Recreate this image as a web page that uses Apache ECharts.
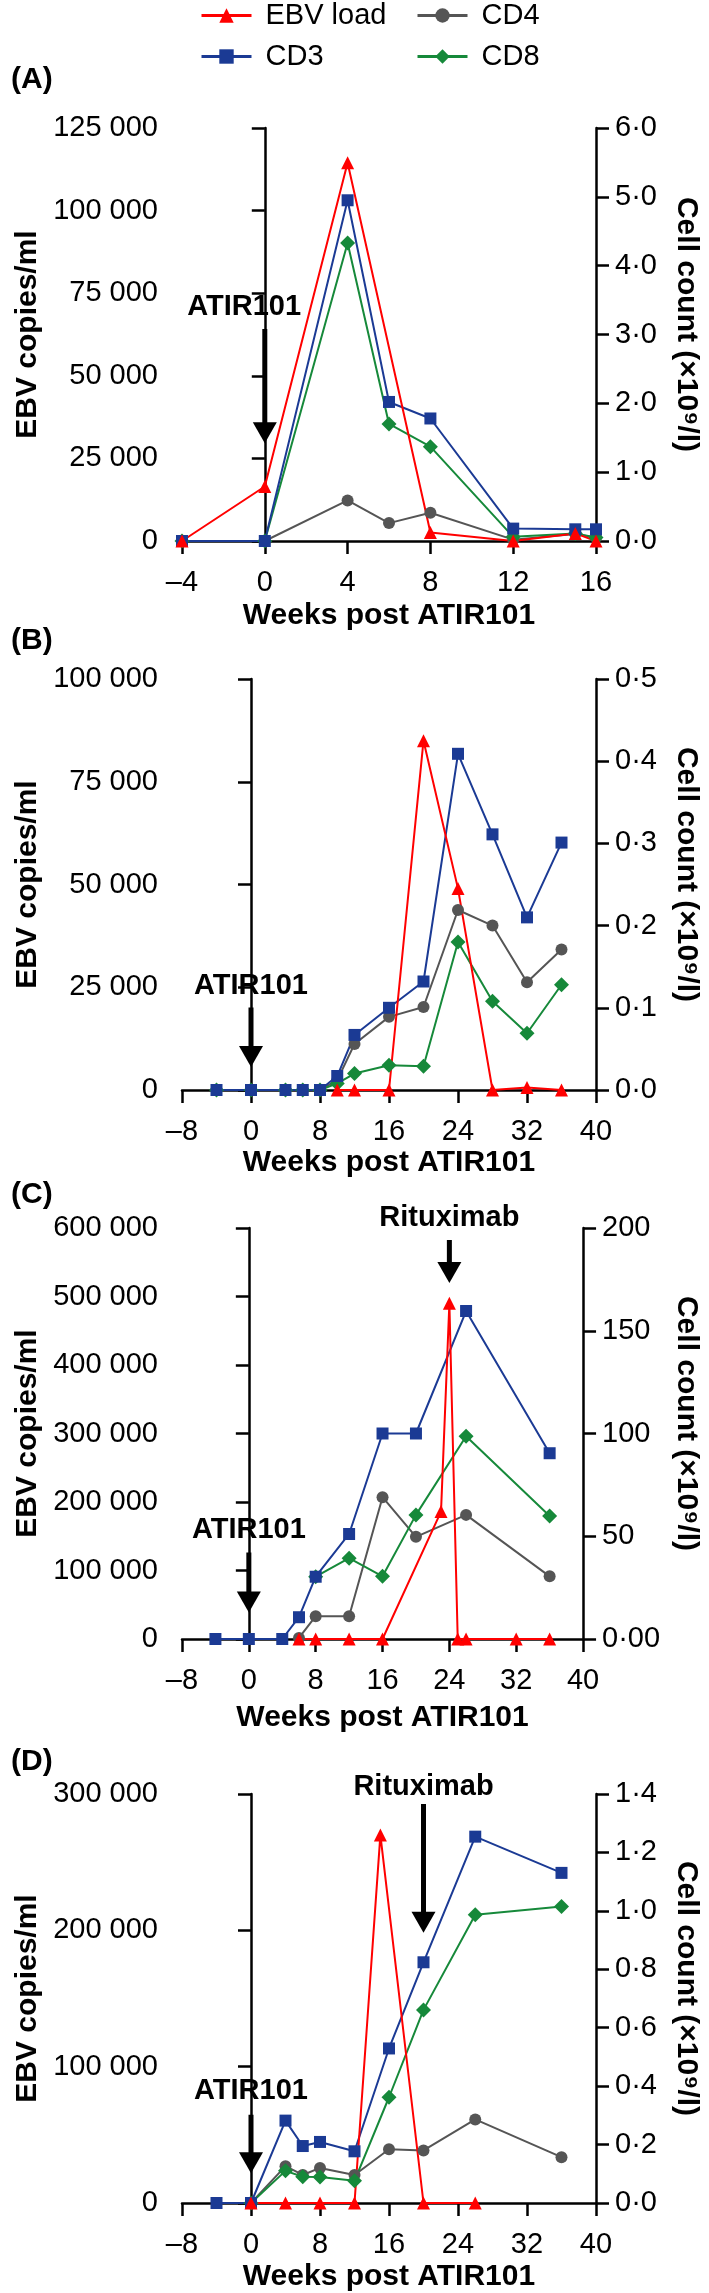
<!DOCTYPE html>
<html><head><meta charset="utf-8">
<script src="https://cdn.jsdelivr.net/npm/echarts@6/dist/echarts.min.js"></script>
<style>html,body{margin:0;padding:0;background:#fff}#c{width:709px;height:2293px}</style>
</head><body><div id="c"></div>
<script>
// ---------- DATA ----------
// Panel A
const weeksA_ebv = [-4, 0, 4, 8, 12, 15, 16];
const ebvA = [0, 16500, 114500, 2600, 0, 2300, 0];
const weeksA_cells = [-4, 0, 4, 6, 8, 12, 15, 16];
const cd3A = [0, 0, 4.95, 2.02, 1.78, 0.18, 0.17, 0.17];
const cd4A = [0, 0, 0.59, 0.26, 0.41, 0.02, 0.10, 0.05];
const cd8A = [0, 0, 4.33, 1.70, 1.37, 0.06, 0.11, 0.05];
// Panel B
const weeksB_ebv = [10, 12, 16, 20, 24, 28, 32, 36];
const ebvB = [0, 0, 0, 85000, 49000, 0, 600, 0];
const weeksB_cells = [-4, 0, 4, 6, 8, 10, 12, 16, 20, 24, 28, 32, 36];
const cd3B = [0, 0, 0, 0, 0, 0.017, 0.067, 0.100, 0.132, 0.409, 0.311, 0.210, 0.301];
const cd4B = [0, 0, 0, 0, 0, 0.012, 0.056, 0.089, 0.101, 0.219, 0.200, 0.131, 0.171];
const cd8B = [0, 0, 0, 0, 0, 0.008, 0.020, 0.030, 0.029, 0.180, 0.108, 0.069, 0.128];
// Panel C
const weeksC_ebv = [6, 8, 12, 16, 23, 24, 25, 26, 32, 36];
const ebvC = [0, 0, 0, 0, 186000, 490000, 0, 0, 0, 0];
const weeksC_cd3 = [-4, 0, 4, 6, 8, 12, 16, 20, 26, 36];
const cd3C = [0, 0, 0, 10.6, 30.3, 51.1, 100, 100, 159.6, 90.4];
const weeksC_cd4 = [6, 8, 12, 16, 20, 26, 36];
const cd4C = [0.5, 11.1, 11.1, 69, 49.7, 60.4, 30.5];
const weeksC_cd8 = [8, 12, 16, 20, 26, 36];
const cd8C = [30.3, 39.3, 30.5, 60.4, 98.7, 59.9];
// Panel D
const weeksD_ebv = [0, 4, 8, 12, 15, 20, 26];
const ebvD = [0, 0, 0, 0, 270000, 0, 0];
const weeksD_cd3 = [-4, 0, 4, 6, 8, 12, 16, 20, 26, 36];
const cd3D = [0, 0, 0.282, 0.195, 0.209, 0.177, 0.529, 0.824, 1.254, 1.130];
const weeksD_cells = [0, 4, 6, 8, 12, 16, 20, 26, 36];
const cd4D = [0, 0.126, 0.096, 0.120, 0.096, 0.184, 0.180, 0.286, 0.157];
const cd8D = [0, 0.110, 0.090, 0.089, 0.076, 0.362, 0.661, 0.987, 1.015];

// Axis ranges / ticks: [min, max, interval]
const xRanges = [[-4, 16, 4], [-8, 40, 8], [-8, 40, 8], [-8, 40, 8]];
const leftRanges = [[0, 125000, 25000], [0, 100000, 25000], [0, 600000, 100000], [0, 300000, 100000]];
const rightRanges = [[0, 6, 1], [0, 0.5, 0.1], [0, 200, 50], [0, 1.4, 0.2]];
const panelLetters = ['(A)', '(B)', '(C)', '(D)'];

// Annotations in data coordinates (left axis): arrows [week, shaftTop, headCentre]; labels [week, value, text]
const arrowsA = [[0, 64200, 32800]];
const arrowsB = [[0, 20100, 8150]];
const arrowsC = [[0, 126100, 54000], [24, 582500, 535000]];
const arrowsD = [[0, 64700, 29600], [20, 292700, 206000]];
const labelsA = [[-1, 70800, 'ATIR101']];
const labelsB = [[0, 25300, 'ATIR101']];
const labelsC = [[0, 159000, 'ATIR101'], [24, 614600, 'Rituximab']];
const labelsD = [[0, 81900, 'ATIR101'], [20, 305100, 'Rituximab']];

// ---------- STYLE ----------
const FONT = 'Liberation Sans, Arial, Helvetica, sans-serif';
const COL = { ebv: '#ff0000', cd3: '#1b3a94', cd4: '#555555', cd8: '#16893a' };
const grids = [
  { top: 128, height: 413 },
  { top: 679, height: 411 },
  { top: 1228, height: 411 },
  { top: 1794, height: 410 }
];
const titleTops = [65, 626, 1180, 1747];
const xNameGaps = [60, 58, 64, 59];

const fmtLeft = v => v === 0 ? '0' : String(v).replace(/\B(?=(\d{3})+(?!\d))/g, ' ');
const fmtDot = v => v.toFixed(1).replace('.', '\u00b7');
const fmtRight = [fmtDot, fmtDot, v => v === 0 ? '0\u00b700' : String(Math.round(v)), fmtDot];
const fmtX = v => v < 0 ? '\u2013' + Math.abs(v) : String(v);

const axisCommon = {
  axisLine: { show: true, lineStyle: { color: '#000', width: 2.5 } },
  axisTick: { show: true, inside: false, length: 13, lineStyle: { color: '#000', width: 2.5 } },
  splitLine: { show: false },
  axisLabel: { color: '#000', fontSize: 29, fontFamily: FONT }
};
const nameStyle = { color: '#000', fontSize: 30, fontWeight: 'bold', fontFamily: FONT };

function pairs(w, v) { return w.map((x, i) => [x, v[i]]); }

function mk(name, w, v, g, right, sym, size, color) {
  return {
    name: name, type: 'line', xAxisIndex: g, yAxisIndex: g * 2 + (right ? 1 : 0),
    data: pairs(w, v), symbol: sym, symbolSize: size, showSymbol: true,
    itemStyle: { color: color, opacity: 1 }, lineStyle: { color: color, width: 2 },
    emphasis: { disabled: true }, silent: true, clip: false
  };
}

function annotSeries(g, arrows, labels) {
  const out = [];
  arrows.forEach((a, k) => {
    out.push({
      name: 'arrow' + g + k, type: 'line', xAxisIndex: g, yAxisIndex: g * 2,
      data: [[a[0], a[1]], [a[0], a[2]]], symbol: 'none',
      lineStyle: { color: '#000', width: 5, opacity: 1 }, silent: true, clip: false, z: 5
    });
    out.push({
      name: 'head' + g + k, type: 'scatter', xAxisIndex: g, yAxisIndex: g * 2,
      data: [[a[0], a[2]]], symbol: 'triangle', symbolRotate: 180, symbolSize: [24, 21],
      itemStyle: { color: '#000', opacity: 1 }, emphasis: { disabled: true },
      silent: true, clip: false, z: 6
    });
  });
  out.push({
    name: 'labels' + g, type: 'scatter', xAxisIndex: g, yAxisIndex: g * 2,
    data: labels.map(l => ({ value: [l[0], l[1]], name: l[2] })),
    symbol: 'circle', symbolSize: 0, itemStyle: { color: '#000', opacity: 1 },
    emphasis: { disabled: true },
    label: { show: true, position: 'inside', formatter: '{b}', color: '#000', opacity: 1,
      textBorderWidth: 0, textBorderColor: 'transparent',
      fontSize: 29, fontWeight: 'bold', fontFamily: FONT },
    silent: true, clip: false, z: 6
  });
  return out;
}

const panelData = [
  { ebv: [weeksA_ebv, ebvA], cd3: [weeksA_cells, cd3A], cd4: [weeksA_cells, cd4A], cd8: [weeksA_cells, cd8A], arrows: arrowsA, labels: labelsA },
  { ebv: [weeksB_ebv, ebvB], cd3: [weeksB_cells, cd3B], cd4: [weeksB_cells, cd4B], cd8: [weeksB_cells, cd8B], arrows: arrowsB, labels: labelsB },
  { ebv: [weeksC_ebv, ebvC], cd3: [weeksC_cd3, cd3C], cd4: [weeksC_cd4, cd4C], cd8: [weeksC_cd8, cd8C], arrows: arrowsC, labels: labelsC },
  { ebv: [weeksD_ebv, ebvD], cd3: [weeksD_cd3, cd3D], cd4: [weeksD_cells, cd4D], cd8: [weeksD_cells, cd8D], arrows: arrowsD, labels: labelsD }
];

const option = {
  animation: false,
  backgroundColor: '#fff',
  textStyle: { fontFamily: FONT },
  title: panelLetters.map((t, i) => ({ text: t, left: 11, top: titleTops[i], padding: 0,
    textStyle: { fontSize: 30, fontWeight: 'bold', color: '#000', fontFamily: FONT } })),
  legend: [['EBV load', 200, 1], ['CD4', 416, 1], ['CD3', 200, 42], ['CD8', 416, 42]].map(l => ({
    data: [l[0]], left: l[1], top: l[2], padding: 0, itemWidth: 50, itemHeight: 18,
    selectedMode: false, lineStyle: { width: 3 },
    textStyle: { fontSize: 29, color: '#000', fontFamily: FONT, padding: [0, 0, 0, 9] }
  })),
  grid: grids.map(g => ({ left: 182, right: 110, top: g.top, height: g.height })),
  xAxis: xRanges.map((r, i) => Object.assign({}, axisCommon, {
    type: 'value', gridIndex: i, min: r[0], max: r[1], interval: r[2],
    axisLabel: Object.assign({}, axisCommon.axisLabel, { margin: 27, formatter: fmtX }),
    name: 'Weeks post ATIR101', nameLocation: 'middle', nameGap: xNameGaps[i], nameTextStyle: nameStyle
  })),
  yAxis: [],
  series: []
};

for (let i = 0; i < 4; i++) {
  const L = leftRanges[i], R = rightRanges[i];
  option.yAxis.push(Object.assign({}, axisCommon, {
    type: 'value', gridIndex: i, position: 'left', min: L[0], max: L[1], interval: L[2],
    axisLabel: Object.assign({}, axisCommon.axisLabel, { margin: 24, formatter: fmtLeft }),
    name: 'EBV copies/ml', nameLocation: 'middle', nameGap: 133, nameRotate: 90, nameTextStyle: nameStyle
  }));
  option.yAxis.push(Object.assign({}, axisCommon, {
    type: 'value', gridIndex: i, position: 'right', min: R[0], max: R[1], interval: R[2],
    axisLabel: Object.assign({}, axisCommon.axisLabel, { margin: 19, formatter: fmtRight[i] }),
    name: 'Cell count (\u00d710\u2079/l)', nameLocation: 'middle', nameGap: 75, nameRotate: -90,
    nameTextStyle: Object.assign({}, nameStyle, { padding: [0, 20, 0, 0] })
  }));
  const p = panelData[i];
  option.series.push(mk('CD4', p.cd4[0], p.cd4[1], i, true, 'circle', 12, COL.cd4));
  option.series.push(mk('CD8', p.cd8[0], p.cd8[1], i, true, 'diamond', 15, COL.cd8));
  option.series.push(mk('CD3', p.cd3[0], p.cd3[1], i, true, 'rect', 12, COL.cd3));
  option.series.push(mk('EBV load', p.ebv[0], p.ebv[1], i, false, 'triangle', 13, COL.ebv));
  annotSeries(i, p.arrows, p.labels).forEach(s => option.series.push(s));
}

const chart = echarts.init(document.getElementById('c'), null, { renderer: 'canvas' });
chart.setOption(option);
</script></body></html>
